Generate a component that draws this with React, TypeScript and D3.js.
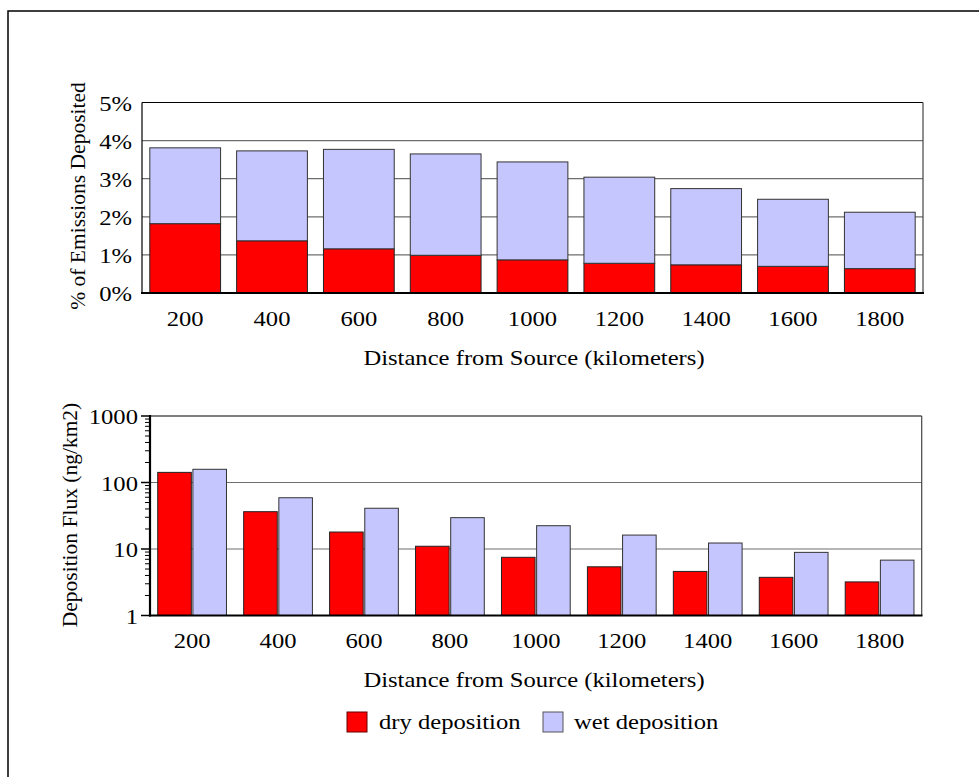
import * as d3 from "d3";

// distances along the x axis (km)
const distances = ["200", "400", "600", "800", "1000", "1200", "1400", "1600", "1800"];

// top panel: share of emissions deposited (%), stacked
const dryPct = [1.82, 1.37, 1.16, 0.99, 0.87, 0.78, 0.74, 0.7, 0.64];
const totalPct = [3.81, 3.73, 3.77, 3.65, 3.44, 3.04, 2.74, 2.46, 2.12];

// bottom panel: deposition flux (ng/km2), log scale
const dryFlux = [142, 36.4, 18.0, 11.0, 7.5, 5.4, 4.6, 3.75, 3.2];
const wetFlux = [158, 59, 41, 29.6, 22.4, 16.2, 12.3, 8.9, 6.8];

const pctTicks = [0, 1, 2, 3, 4, 5];
const fluxTicks = [1, 10, 100, 1000];

const DRY = "#ff0000";
const WET = "#c6c6ff";
const FONT = "'Liberation Serif', 'Times New Roman', serif";

const W = 979;
const H = 777;

// the original text is a little wider than plain Times, so stretch it in x
function HText({ x, y, anchor = "start", children }: { x: number; y: number; anchor?: string; children: any }) {
  return (
    <text transform={`translate(${x},${y}) scale(1.12,1)`} textAnchor={anchor}
      fontFamily={FONT} fontSize={22} fill="#000">{children}</text>
  );
}

export default function App() {
  // ---- top chart scales
  const x1 = d3.scaleBand<string>().domain(distances).range([142, 923]).paddingInner(0.185).paddingOuter(0.09);
  const y1 = d3.scaleLinear().domain([0, 5]).range([293, 102.5]);

  // ---- bottom chart scales
  const x2 = d3.scaleBand<string>().domain(distances).range([150, 921.7]).paddingInner(0.2).paddingOuter(0.09);
  const xs = d3.scaleBand<string>().domain(["dry", "wet"]).range([0, x2.bandwidth()]).paddingInner(0.045);
  const y2 = d3.scaleLog().domain([1, 1000]).range([615.5, 416]);

  const minorTicks: number[] = [];
  for (let dec = 1; dec < 1000; dec *= 10) {
    for (let k = 2; k <= 9; k++) minorTicks.push(dec * k);
  }

  return (
    <svg width={W} height={H} style={{ position: "absolute", left: 0, top: 0, background: "#fff" }}>
      {/* outer frame, runs past the window edges */}
      <rect x={8} y={11} width={1100} height={900} fill="none" stroke="#000" strokeWidth={1.5} />

      {/* ================= top chart ================= */}
      {pctTicks.slice(1, 5).map((t) => (
        <line key={t} x1={142} x2={923} y1={y1(t)} y2={y1(t)} stroke="#6e6e6e" strokeWidth={1.2} />
      ))}
      {distances.map((d, i) => (
        <g key={d}>
          <rect x={x1(d)} y={y1(dryPct[i])} width={x1.bandwidth()} height={y1(0) - y1(dryPct[i])}
            fill={DRY} stroke="#222" strokeWidth={1} />
          <rect x={x1(d)} y={y1(totalPct[i])} width={x1.bandwidth()} height={y1(dryPct[i]) - y1(totalPct[i])}
            fill={WET} stroke="#333" strokeWidth={1} />
        </g>
      ))}
      <line x1={142} x2={923} y1={y1(5)} y2={y1(5)} stroke="#000" strokeWidth={1.2} />
      <line x1={923} x2={923} y1={y1(5)} y2={y1(0)} stroke="#444" strokeWidth={1.2} />
      <line x1={142} x2={142} y1={y1(5)} y2={y1(0)} stroke="#000" strokeWidth={1.2} />
      <line x1={141} x2={924} y1={y1(0)} y2={y1(0)} stroke="#000" strokeWidth={2.2} />
      {pctTicks.map((t) => (
        <HText key={t} x={132} y={y1(t) + 8} anchor="end">{t + "%"}</HText>
      ))}
      {distances.map((d) => (
        <HText key={d} x={(x1(d) ?? 0) + x1.bandwidth() / 2} y={326} anchor="middle">{d}</HText>
      ))}
      <HText x={534} y={365} anchor="middle">Distance from Source (kilometers)</HText>
      <text transform={`translate(85,196) rotate(-90)`} textAnchor="middle"
        fontFamily={FONT} fontSize={21.5} fill="#000">% of Emissions Deposited</text>

      {/* ================= bottom chart ================= */}
      {fluxTicks.slice(1, 3).map((t) => (
        <line key={t} x1={150} x2={921.7} y1={y2(t)} y2={y2(t)} stroke="#6e6e6e" strokeWidth={1.2} />
      ))}
      {distances.map((d, i) => (
        <g key={d} transform={`translate(${x2(d)},0)`}>
          <rect x={xs("dry")} y={y2(dryFlux[i])} width={xs.bandwidth()} height={y2(1) - y2(dryFlux[i])}
            fill={DRY} stroke="#222" strokeWidth={1} />
          <rect x={xs("wet")} y={y2(wetFlux[i])} width={xs.bandwidth()} height={y2(1) - y2(wetFlux[i])}
            fill={WET} stroke="#333" strokeWidth={1} />
        </g>
      ))}
      <line x1={150} x2={921.7} y1={y2(1000)} y2={y2(1000)} stroke="#000" strokeWidth={1.2} />
      <line x1={921.7} x2={921.7} y1={y2(1000)} y2={y2(1)} stroke="#444" strokeWidth={1.2} />
      <line x1={150} x2={150} y1={y2(1000) - 1} y2={y2(1) + 1} stroke="#000" strokeWidth={2.2} />
      <line x1={149} x2={922.5} y1={y2(1)} y2={y2(1)} stroke="#000" strokeWidth={2.2} />
      {fluxTicks.map((t) => (
        <line key={"M" + t} x1={141} x2={150} y1={y2(t)} y2={y2(t)} stroke="#000" strokeWidth={1.5} />
      ))}
      {minorTicks.map((t) => (
        <line key={"m" + t} x1={145} x2={150} y1={y2(t)} y2={y2(t)} stroke="#000" strokeWidth={1} />
      ))}
      {fluxTicks.map((t) => (
        <HText key={t} x={138} y={y2(t) + 8} anchor="end">{String(t)}</HText>
      ))}
      {distances.map((d) => (
        <HText key={d} x={(x2(d) ?? 0) + x2.bandwidth() / 2} y={648} anchor="middle">{d}</HText>
      ))}
      <HText x={534} y={687} anchor="middle">Distance from Source (kilometers)</HText>
      <text transform={`translate(77,515) rotate(-90)`} textAnchor="middle"
        fontFamily={FONT} fontSize={21.5} fill="#000">Deposition Flux (ng/km2)</text>

      {/* ================= legend ================= */}
      <rect x={347} y={712} width={20} height={20} fill={DRY} stroke="#600" strokeWidth={1} />
      <HText x={379} y={729}>dry deposition</HText>
      <rect x={543} y={712} width={20} height={20} fill={WET} stroke="#555" strokeWidth={1} />
      <HText x={574} y={729}>wet deposition</HText>
    </svg>
  );
}
